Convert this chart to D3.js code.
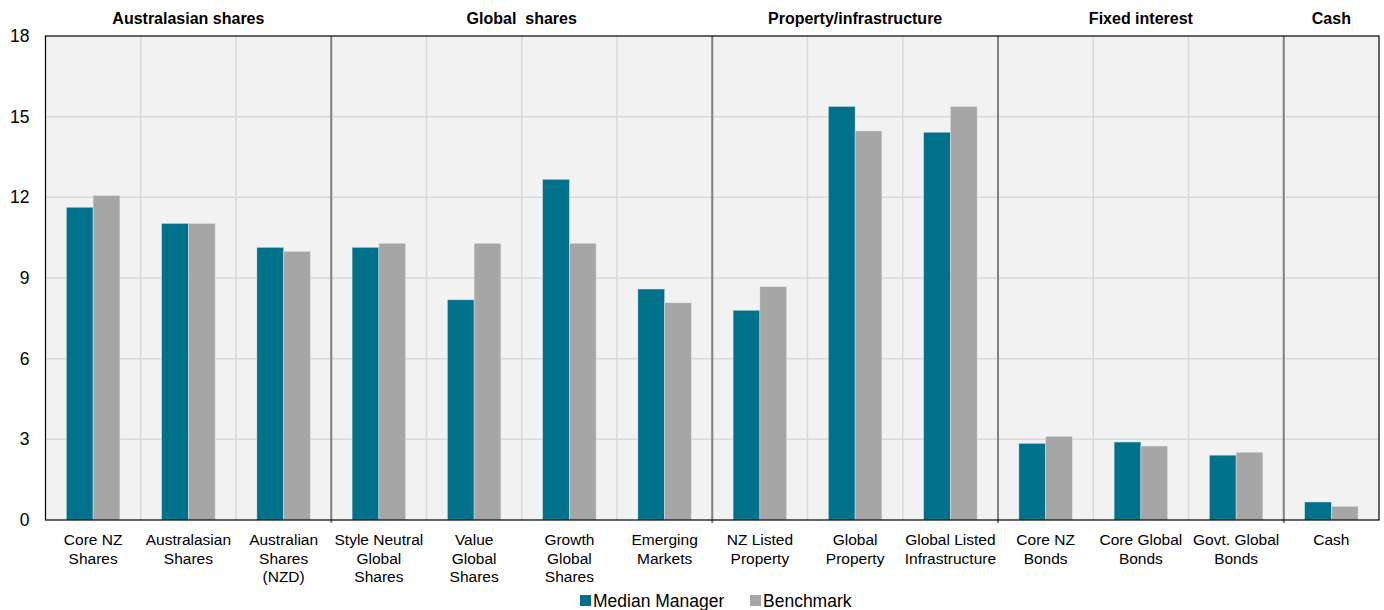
<!DOCTYPE html>
<html><head><meta charset="utf-8">
<script src="https://cdn.jsdelivr.net/npm/d3@7"></script>
<style>body{margin:0;background:#fff;font-family:"Liberation Sans",Arial,sans-serif;}</style>
</head><body><svg id="c" width="1384" height="610"></svg>
<script>
const categories = ["Core NZ|Shares","Australasian|Shares","Australian|Shares|(NZD)","Style Neutral|Global|Shares","Value|Global|Shares","Growth|Global|Shares","Emerging|Markets","NZ Listed|Property","Global|Property","Global Listed|Infrastructure","Core NZ|Bonds","Core Global|Bonds","Govt. Global|Bonds","Cash"];
const seriesNames = ["Median Manager","Benchmark"];
const medianManager = [11.63,11.03,10.14,10.14,8.19,12.67,8.59,7.80,15.38,14.42,2.85,2.90,2.41,0.67];
const benchmark = [12.07,11.03,9.99,10.29,10.29,10.29,8.08,8.68,14.47,15.38,3.11,2.75,2.52,0.51];
const groups = [{name:"Australasian shares",start:0,end:3},{name:"Global  shares",start:3,end:7},{name:"Property/infrastructure",start:7,end:10},{name:"Fixed interest",start:10,end:13},{name:"Cash",start:13,end:14}];
const yTicks = [0,3,6,9,12,15,18];
const colors = ["#00718a","#a6a6a6"];

const svg = d3.select("#c");
const L=45.5, R=1379, T=36, B=520;
const x = d3.scaleBand().domain(d3.range(categories.length)).range([L,R]).padding(0);
const x1 = d3.scaleBand().domain(seriesNames).range([0,x.bandwidth()]).paddingInner(0).paddingOuter(0.78);
const y = d3.scaleLinear().domain([0,18]).range([B,T]);

svg.append("rect").attr("x",L).attr("y",T).attr("width",R-L).attr("height",B-T).attr("fill","#f2f2f2");
// gridlines
svg.append("g").selectAll("line").data(yTicks.slice(1,-1)).join("line")
  .attr("x1",L).attr("x2",R).attr("y1",d=>y(d)).attr("y2",d=>y(d)).attr("stroke","#d9d9d9").attr("stroke-width",1.5);
svg.append("g").selectAll("line").data(d3.range(1,categories.length)).join("line")
  .attr("x1",d=>x(d)).attr("x2",d=>x(d)).attr("y1",T).attr("y2",B).attr("stroke","#d9d9d9").attr("stroke-width",1.5);

// bars
const data = categories.map((c,i)=>({i, vals:[medianManager[i],benchmark[i]]}));
const g = svg.append("g").selectAll("g").data(data).join("g").attr("transform",d=>`translate(${x(d.i)},0)`);
g.selectAll("rect").data(d=>d.vals.map((v,k)=>({v,k}))).join("rect")
  .attr("x",d=>x1(seriesNames[d.k])).attr("width",x1.bandwidth())
  .attr("y",d=>y(d.v)).attr("height",d=>y(0)-y(d.v))
  .attr("fill",d=>colors[d.k]).attr("stroke","#e6eef0").attr("stroke-width",0.7).attr("stroke-opacity",0.6);

// group separators
svg.append("g").selectAll("line").data(groups.slice(1)).join("line")
  .attr("x1",d=>x(d.start)).attr("x2",d=>x(d.start)).attr("y1",T).attr("y2",B+3)
  .attr("stroke","#808080").attr("stroke-width",2);

// frame
svg.append("rect").attr("x",L).attr("y",T).attr("width",R-L).attr("height",B-T).attr("fill","none").attr("stroke","#000").attr("stroke-width",1.2);

// y axis labels
const yAxis = d3.axisLeft(y).tickValues(yTicks).tickSize(0).tickPadding(16);
const ya = svg.append("g").attr("transform",`translate(${L},0)`).call(yAxis);
ya.select(".domain").remove();
ya.selectAll("text").attr("font-size",17.5).attr("font-family","Liberation Sans, Arial, sans-serif").attr("fill","#000");

// x labels
const xl = svg.append("g").selectAll("text").data(categories).join("text")
  .attr("x",(d,i)=>x(i)+x.bandwidth()/2).attr("y",545)
  .attr("text-anchor","middle").attr("font-size",15.5).attr("fill","#000");
xl.each(function(d){
  const parts=d.split("|");
  d3.select(this).selectAll("tspan").data(parts).join("tspan")
    .attr("x",d3.select(this).attr("x")).attr("dy",(p,j)=>j===0?0:18.5).text(p=>p);
});

// group headers
svg.append("g").selectAll("text").data(groups).join("text")
  .attr("x",d=>(x(d.start)+ (d.end<categories.length? x(d.end): R))/2).attr("y",24)
  .attr("text-anchor","middle").attr("font-size",16).attr("font-weight","bold").attr("fill","#000")
  .style("white-space","pre").attr("xml:space","preserve").text(d=>d.name);

// legend
const leg = svg.append("g");
const legPos=[580,750];
seriesNames.forEach((s,k)=>{
  leg.append("rect").attr("x",legPos[k]).attr("y",595).attr("width",11).attr("height",11).attr("fill",colors[k]);
  leg.append("text").attr("x",legPos[k]+13).attr("y",607).attr("font-size",17.5).attr("fill","#000").text(s);
});
</script></body></html>
